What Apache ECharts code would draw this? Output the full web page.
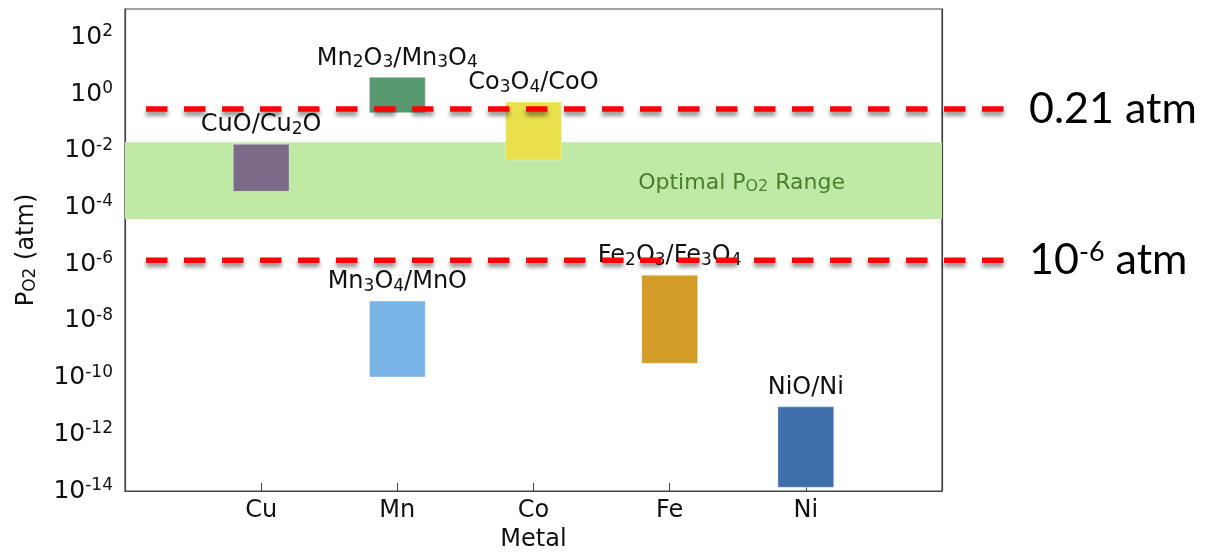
<!DOCTYPE html>
<html><head><meta charset="utf-8">
<script src="https://cdn.jsdelivr.net/npm/echarts@6/dist/echarts.min.js"></script>
<style>html,body{margin:0;padding:0;background:#fff}#c{width:1214px;height:554px}</style>
</head><body><div id="c"></div>
<script>
// ---- data ----
const categories = ['Cu', 'Mn', 'Co', 'Fe', 'Ni'];
const coupleNames = ['CuO/Cu2O', 'Mn2O3/Mn3O4', 'Co3O4/CoO', 'Mn3O4/MnO', 'Fe2O3/Fe3O4', 'NiO/Ni'];
const coupleMetals = ['Cu', 'Mn', 'Co', 'Mn', 'Fe', 'Ni'];
const coupleLow  = [3.7e-4, 0.22, 4.7e-3, 1.05e-10, 3.2e-10, 1.35e-14];
const coupleHigh = [1.7e-2, 3.9, 0.52, 5.0e-8, 4.1e-7, 9.3e-12];
const optimalRange = [3.9e-5, 2.0e-2];
const refLineValues = [0.30, 1.37e-6];
const refLineLabels = ['0.21 atm', '10^-6 atm'];
const yMin = 1e-14, yMax = 1e3;

// ---- styles ----
const coupleColors = ['#7b6b88', '#579a70', '#e9e04c', '#7ab4e6', '#d39d28', '#3f6fab'];
const FONT = '"DejaVu Sans", "Liberation Sans", sans-serif';
const AXIS = '#444';

const xData = [''].concat(categories, ['']);
const subFmt = s => s.replace(/(\d)/g, '{s|$1}');
const supFmt = s => s.replace(/\^(-?\d+)/g, '{p|$1}');

const chart = echarts.init(document.getElementById('c'), null, {renderer: 'canvas'});

const barData = coupleNames.map((n, i) => [coupleMetals[i], coupleLow[i], coupleHigh[i], n]);

const option = {
  animation: false,
  backgroundColor: '#fff',
  grid: [
    {left: 125, right: 272, top: 9, bottom: 63, show: true, borderColor: AXIS, borderWidth: 1.2, backgroundColor: 'transparent', outerBoundsMode: 'none'},
    {left: 146, right: 209, top: 9, bottom: 63, show: false, outerBoundsMode: 'none'}
  ],
  xAxis: [
    {type: 'category', gridIndex: 0, data: xData, boundaryGap: false,
     axisLine: {lineStyle: {color: AXIS, width: 1.2}},
     axisTick: {inside: true, length: 8, interval: 0, lineStyle: {color: AXIS}},
     axisLabel: {interval: 0, margin: 8, fontFamily: FONT, fontSize: 24, color: '#111'},
     splitLine: {show: false},
     name: 'Metal', nameLocation: 'middle', nameGap: 36,
     nameTextStyle: {fontFamily: FONT, fontSize: 24, color: '#111'}},
    {type: 'value', gridIndex: 1, min: 0, max: 1, show: false}
  ],
  yAxis: [
    {type: 'log', gridIndex: 0, logBase: 10, min: yMin, max: yMax, interval: 2, position: 'left',
     axisLine: {show: true, lineStyle: {color: AXIS, width: 1.2}},
     axisTick: {inside: true, length: 8, lineStyle: {color: AXIS}},
     splitLine: {show: false},
     axisLabel: {margin: 12, color: '#111',
       formatter: v => { const e = Math.round(Math.log10(v)); return (e % 2 === 0 && e <= 2) ? '{b|10}{p|' + e + '}' : ''; },
       rich: {b: {fontFamily: FONT, fontSize: 25, lineHeight: 28, color: '#111'},
              p: {fontFamily: FONT, fontSize: 17, lineHeight: 18, verticalAlign: 'top', color: '#111'}}},
     name: 'P{s|O2} (atm)', nameLocation: 'middle', nameGap: 86, nameRotate: 90,
     nameTextStyle: {fontFamily: FONT, fontSize: 24, color: '#111',
       rich: {s: {fontFamily: FONT, fontSize: 17, verticalAlign: 'bottom', lineHeight: 6, color: '#111'}}}},
    {type: 'log', gridIndex: 0, logBase: 10, min: yMin, max: yMax, interval: 1, position: 'left',
     axisLine: {show: false}, axisLabel: {show: false}, splitLine: {show: false},
     axisTick: {inside: true, length: 4, lineStyle: {color: AXIS}}},
    {type: 'log', gridIndex: 0, logBase: 10, min: yMin, max: yMax, interval: 2, position: 'right',
     axisLine: {show: true, lineStyle: {color: AXIS, width: 1.2}}, axisLabel: {show: false}, splitLine: {show: false},
     axisTick: {inside: true, length: 8, lineStyle: {color: AXIS}}},
    {type: 'log', gridIndex: 0, logBase: 10, min: yMin, max: yMax, interval: 1, position: 'right',
     axisLine: {show: false}, axisLabel: {show: false}, splitLine: {show: false},
     axisTick: {inside: true, length: 4, lineStyle: {color: AXIS}}},
    {type: 'log', gridIndex: 1, logBase: 10, min: yMin, max: yMax, show: false}
  ],
  series: [
    {
      type: 'custom', xAxisIndex: 0, yAxisIndex: 0, z: 3,
      data: barData,
      encode: {x: 0, y: [1, 2]},
      renderItem: (params, api) => {
        const i = params.dataIndex;
        const x = api.value(0);
        const pTop = api.coord([x, api.value(2)]);
        const pBot = api.coord([x, api.value(1)]);
        const w = api.size([1, 1])[0] * 0.41;
        return {
          type: 'group',
          children: [
            {type: 'rect',
             shape: {x: pTop[0] - w / 2, y: pTop[1], width: w, height: pBot[1] - pTop[1]},
             style: {fill: coupleColors[i], stroke: 'rgba(255,255,255,0.35)', lineWidth: 1, blend: 'multiply'}},
            {type: 'text', x: pTop[0], y: pTop[1] - 6,
             style: {text: subFmt(coupleNames[i]), align: 'center', verticalAlign: 'bottom',
               fill: '#111', fontFamily: FONT, fontSize: 24, lineHeight: 26,
               rich: {s: {fontFamily: FONT, fontSize: 17, lineHeight: 4, verticalAlign: 'bottom', fill: '#111'}}}}
          ]
        };
      },
      markArea: {
        silent: true,
        itemStyle: {color: '#c1e9a6', opacity: 1},
        label: {show: true, position: 'insideRight', distance: 97, offset: [0, 3],
          formatter: 'Optimal P{s|O2} Range', fontFamily: FONT, fontSize: 22, color: '#4a7d2c',
          rich: {s: {fontFamily: FONT, fontSize: 16, lineHeight: 4, verticalAlign: 'bottom', color: '#4a7d2c'}}},
        data: [[{yAxis: optimalRange[1]}, {yAxis: optimalRange[0]}]]
      }
    }
  ].concat(refLineValues.map((v, k) => ({
    type: 'line', xAxisIndex: 1, yAxisIndex: 4, z: 10, clip: false,
    data: [[0, v], [1, v]],
    symbol: 'none', silent: true,
    lineStyle: {color: '#ff0000', width: 5.5, type: [21.5, 16.5],
      shadowColor: 'rgba(0,0,0,0.45)', shadowBlur: 4, shadowOffsetY: 4},
    endLabel: {show: true, distance: 24, formatter: supFmt(refLineLabels[k]),
      fontFamily: 'Lato, "Open Sans", sans-serif', fontSize: 43, color: '#000',
      rich: {p: {fontFamily: 'Lato, "Open Sans", sans-serif', fontSize: 27, lineHeight: 34, verticalAlign: 'top', color: '#000'}}}
  })))
};
chart.setOption(option);
</script>
</body></html>
